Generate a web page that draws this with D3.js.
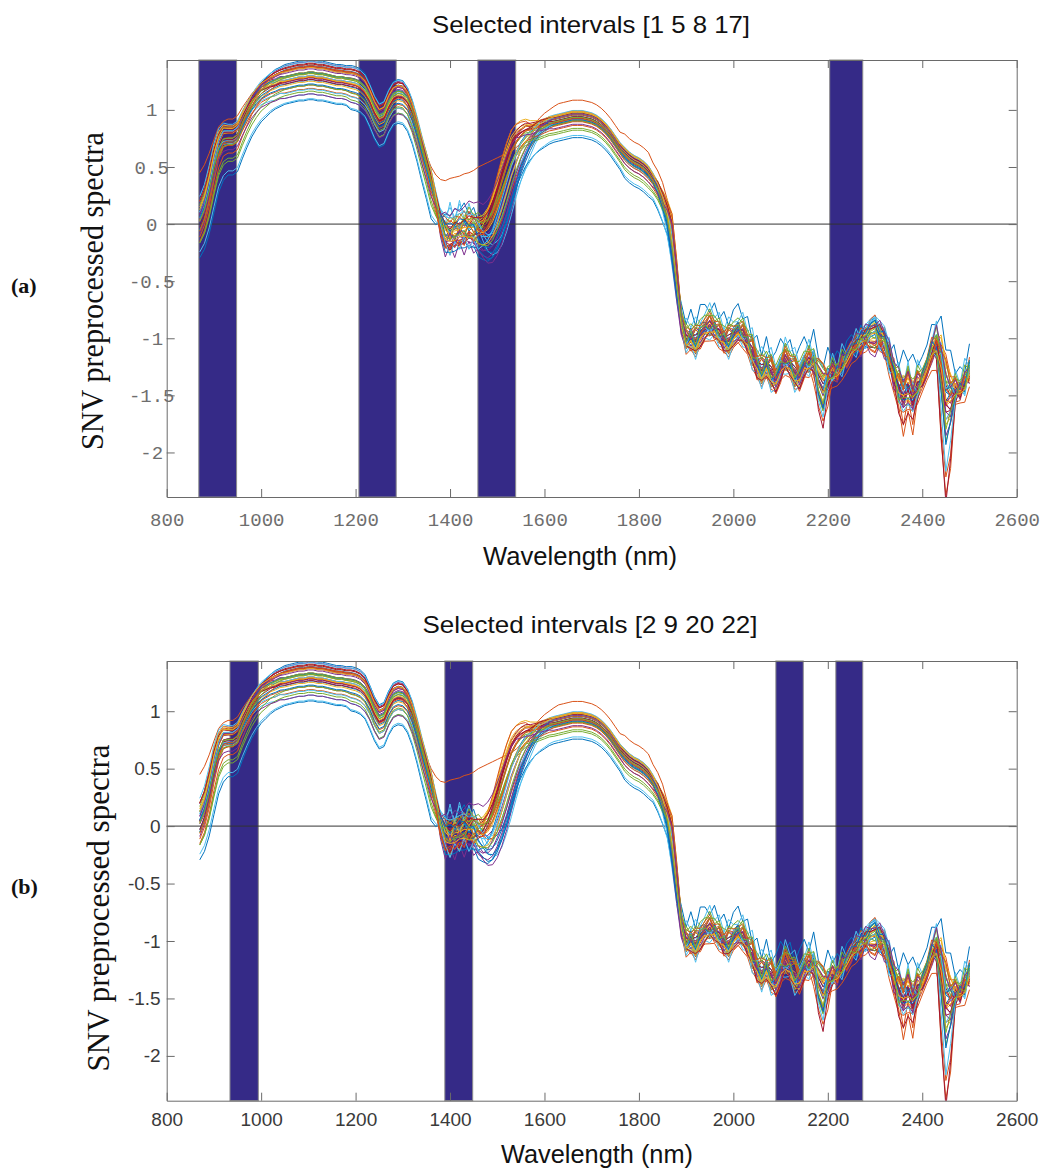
<!DOCTYPE html>
<html>
<head>
<meta charset="utf-8">
<script src="https://cdn.jsdelivr.net/npm/d3@7"></script>
<style>
  body { margin: 0; background: #fff; }
  svg { display: block; }
</style>
</head>
<body>
<svg id="fig" width="1045" height="1174"></svg>
<script>
// ---------------------------------------------------------------
// SNV preprocessed NIR spectra, sampled every 10 nm (870-2500 nm)
// Spectra are stored as a mean curve plus a few component
// profiles and per-sample weights.
// ---------------------------------------------------------------
const wavelengths = d3.range(870, 2501, 10);

const meanSpectrum = [
  0.02, 0.12, 0.28, 0.48, 0.64, 0.72, 0.73, 0.73, 0.76, 0.86,
  0.95, 1.03, 1.09, 1.14, 1.17, 1.20, 1.22, 1.24, 1.25, 1.26,
  1.27, 1.28, 1.28, 1.29, 1.29, 1.28, 1.28, 1.27, 1.26, 1.25,
  1.25, 1.24, 1.23, 1.22, 1.20, 1.16, 1.08, 0.98, 0.91, 0.93,
  1.03, 1.10, 1.12, 1.11, 1.06, 0.96, 0.82, 0.66, 0.51, 0.35,
  0.18, 0.02, -0.07, -0.08, -0.06, -0.04, -0.03, -0.02, -0.03, -0.06,
  -0.08, -0.06, 0.00, 0.10, 0.22, 0.35, 0.48, 0.58, 0.66, 0.72,
  0.76, 0.80, 0.83, 0.85, 0.87, 0.88, 0.89, 0.90, 0.91, 0.92,
  0.92, 0.92, 0.91, 0.90, 0.88, 0.85, 0.81, 0.76, 0.70, 0.64,
  0.59, 0.55, 0.52, 0.50, 0.47, 0.43, 0.37, 0.30, 0.20, 0.08,
  -0.12, -0.48, -0.85, -1.00, -0.98, -1.02, -0.95, -0.90, -0.88, -0.90,
  -0.95, -1.00, -1.02, -0.96, -0.92, -0.95, -1.02, -1.12, -1.22, -1.28,
  -1.22, -1.30, -1.35, -1.25, -1.18, -1.22, -1.30, -1.32, -1.22, -1.20,
  -1.18, -1.30, -1.38, -1.32, -1.28, -1.30, -1.22, -1.18, -1.10, -1.05,
  -1.02, -0.98, -0.96, -0.95, -0.97, -1.02, -1.15, -1.28, -1.38, -1.42,
  -1.38, -1.45, -1.38, -1.35, -1.25, -1.10, -1.02, -1.15, -1.40, -1.45,
  -1.42, -1.45, -1.38, -1.28
];

// overall level of each sample
const levelProfile = [
  0.07, 0.08, 0.09, 0.10, 0.10, 0.10, 0.09, 0.09, 0.09, 0.09,
  0.09, 0.09, 0.09, 0.09, 0.09, 0.09, 0.09, 0.09, 0.09, 0.09,
  0.09, 0.09, 0.09, 0.09, 0.09, 0.09, 0.09, 0.09, 0.09, 0.09,
  0.09, 0.09, 0.10, 0.10, 0.10, 0.10, 0.10, 0.10, 0.10, 0.10,
  0.10, 0.10, 0.10, 0.10, 0.10, 0.10, 0.10, 0.10, 0.10, 0.10,
  0.05, -0.02, -0.08, -0.09, -0.09, -0.09, -0.09, -0.09, -0.09, -0.08,
  -0.06, -0.04, -0.02, 0.00, 0.02, 0.03, 0.04, 0.04, 0.05, 0.05,
  0.05, 0.05, 0.05, 0.05, 0.05, 0.05, 0.05, 0.05, 0.05, 0.05,
  0.05, 0.05, 0.05, 0.05, 0.05, 0.05, 0.05, 0.05, 0.05, 0.05,
  0.06, 0.06, 0.06, 0.06, 0.06, 0.06, 0.05, 0.05, 0.05, 0.04,
  0.03, 0.00, -0.03, -0.04, -0.04, -0.04, -0.04, -0.04, -0.04, -0.04,
  -0.04, -0.04, -0.04, -0.04, -0.04, -0.04, -0.04, -0.04, -0.04, -0.04,
  -0.04, -0.04, -0.04, -0.04, -0.04, -0.04, -0.04, -0.04, -0.04, -0.04,
  -0.04, -0.04, -0.04, -0.04, -0.04, -0.04, -0.04, -0.04, -0.04, -0.04,
  -0.04, -0.04, -0.04, -0.04, -0.04, -0.04, -0.05, -0.06, -0.06, -0.06,
  -0.06, -0.05, -0.05, -0.04, -0.04, -0.06, -0.07, -0.06, -0.05, -0.05,
  -0.04, -0.04, -0.05, -0.05
];

// slope difference between the short and long ends
const tiltProfile = [
  0.12, 0.12, 0.12, 0.11, 0.09, 0.07, 0.06, 0.06, 0.06, 0.05,
  0.04, 0.03, 0.02, 0.01, 0.00, -0.01, -0.02, -0.02, -0.03, -0.03,
  -0.03, -0.03, -0.03, -0.03, -0.03, -0.03, -0.03, -0.03, -0.03, -0.03,
  -0.03, -0.03, -0.03, -0.03, -0.03, -0.03, -0.02, -0.02, -0.02, -0.02,
  -0.02, -0.02, -0.02, -0.02, -0.01, 0.00, 0.01, 0.02, 0.03, 0.04,
  0.05, 0.06, 0.06, 0.05, 0.05, 0.05, 0.05, 0.05, 0.05, 0.04,
  0.03, 0.02, 0.01, 0.00, 0.00, 0.00, 0.00, 0.00, 0.00, 0.00,
  0.01, 0.02, 0.03, 0.03, 0.03, 0.03, 0.03, 0.03, 0.03, 0.03,
  0.03, 0.03, 0.03, 0.03, 0.03, 0.03, 0.03, 0.03, 0.03, 0.03,
  0.03, 0.03, 0.03, 0.03, 0.03, 0.03, 0.03, 0.03, 0.02, 0.01,
  0.00, -0.02, -0.04, -0.05, -0.06, -0.07, -0.07, -0.06, -0.05, -0.05,
  -0.05, -0.06, -0.07, -0.06, -0.05, -0.05, -0.05, -0.06, -0.07, -0.07,
  -0.06, -0.07, -0.07, -0.06, -0.05, -0.06, -0.07, -0.07, -0.06, -0.05,
  -0.04, -0.03, -0.03, -0.03, -0.02, -0.02, -0.01, 0.00, 0.01, 0.02,
  0.03, 0.04, 0.05, 0.06, 0.06, 0.05, 0.04, 0.02, 0.00, -0.02,
  -0.03, -0.04, -0.04, -0.03, -0.02, 0.00, 0.02, 0.00, -0.02, -0.03,
  -0.03, -0.03, -0.02, -0.01
];

// position of the band edges near 1450-1550 nm and 1870 nm
const edgeProfile = [
  0, 0, 0, 0, 0, 0, 0, 0, 0, 0,
  0, 0, 0, 0, 0, 0, 0, 0, 0, 0,
  0, 0, 0, 0, 0, 0, 0, 0, 0, 0,
  0, 0, 0, 0, 0, 0, 0, 0, 0, 0,
  0, 0, 0, 0, 0, 0, 0, 0, 0, 0,
  0, 0, 0.03, -0.04, 0.05, -0.03, 0.04, 0.03, 0.06, 0.09,
  0.13, 0.18, 0.22, 0.25, 0.27, 0.27, 0.25, 0.21, 0.16, 0.12,
  0.08, 0.05, 0.03, 0.02, 0.01, 0, 0, 0, 0, 0,
  0, 0, 0, 0, 0, 0, 0, 0, 0, 0,
  0, 0, 0, 0, 0, 0, 0, 0.02, 0.04, 0.08,
  0.15, 0.12, 0.05, 0, 0, 0, 0, 0, 0, 0,
  0, 0, 0, 0, 0, 0, 0, 0, 0, 0,
  0, 0, 0, 0, 0, 0, 0, 0, 0, 0,
  0, 0, 0, 0, 0, 0, 0, 0, 0, 0,
  0, 0, 0, 0, 0, 0, 0, 0, 0, 0,
  0, 0, 0, 0, 0, 0, 0, 0, 0, 0,
  0, 0, 0, 0
];

// fine structure in the water band and the combination region
const rippleProfile = [
  0, 0, 0, 0, 0, 0, 0, 0, 0, 0,
  0, 0, 0, 0, 0, 0, 0, 0, 0, 0,
  0, 0, 0, 0, 0, 0, 0, 0, 0, 0,
  0, 0, 0, 0, 0, 0, 0, 0, 0, 0,
  0, 0, 0, 0, 0, 0, 0, 0, 0, 0,
  0, 0.02, 0.03, -0.04, 0.04, -0.03, 0.05, -0.04, 0.03, -0.02,
  0, 0, 0, 0, 0, 0, 0, 0, 0, 0,
  0, 0, 0, 0, 0, 0, 0, 0, 0, 0,
  0, 0, 0, 0, 0, 0, 0, 0, 0, 0,
  0, 0, 0, 0, 0, 0, 0, 0, 0, 0,
  0, 0.02, 0.05, -0.03, 0.05, -0.04, 0.05, 0.02, -0.04, 0.04,
  -0.03, 0.05, -0.04, 0.03, 0.05, -0.03, 0.04, -0.05, 0.05, -0.04,
  0.05, -0.05, 0.04, 0.06, -0.04, 0.03, -0.05, 0.05, 0.05, -0.04,
  0.07, -0.05, -0.07, 0.05, -0.04, 0.05, -0.05, 0.04, 0.03, -0.04,
  0.05, -0.03, 0.05, 0.07, -0.04, 0.04, -0.05, 0.05, -0.06, 0.05,
  -0.05, 0.06, -0.05, 0.04, 0.05, 0.05, -0.04, 0.03, -0.05, 0.04,
  -0.04, 0.05, -0.05, 0.07
];

// deep absorption dips near 2190, 2360 and 2450 nm
const dipProfile = [
  0, 0, 0, 0, 0, 0, 0, 0, 0, 0,
  0, 0, 0, 0, 0, 0, 0, 0, 0, 0,
  0, 0, 0, 0, 0, 0, 0, 0, 0, 0,
  0, 0, 0, 0, 0, 0, 0, 0, 0, 0,
  0, 0, 0, 0, 0, 0, 0, 0, 0, 0,
  0, 0, 0, 0, 0, 0, 0, 0, 0, 0,
  0, 0, 0, 0, 0, 0, 0, 0, 0, 0,
  0, 0, 0, 0, 0, 0, 0, 0, 0, 0,
  0, 0, 0, 0, 0, 0, 0, 0, 0, 0,
  0, 0, 0, 0, 0, 0, 0, 0, 0, 0,
  0, 0, 0, 0, 0, 0, 0, 0, 0, 0,
  0, 0, 0, 0, 0, 0, 0, 0, 0, 0,
  0, 0, 0, 0, 0, 0, 0, 0, 0, 0,
  -0.04, -0.12, -0.15, -0.08, -0.03, 0, 0, 0, 0, 0,
  0, 0, 0, 0, 0, 0, 0, -0.05, -0.10, -0.15,
  -0.10, -0.12, -0.05, 0, 0, 0, -0.06, -0.30, -0.42, -0.26,
  -0.05, 0, 0, 0
];

// per-sample weights (40 samples)
const levelWeight = [0.8, 0.5, -0.3, 1.0, 0.2, -1.2, 0.9, -2.6, -0.6, 1.1,
  0.3, 0.6, -2.4, 0.0, 1.2, -0.9, 0.4, 0.8, -1.6, 0.6,
  1.0, -0.2, 0.5, 0.7, 0.9, 0.1, -0.8, 1.1, 0.6, -0.4,
  0.3, 0.8, -1.1, 1.3, 0.2, -0.5, 0.7, 1.0, -1.4, 0.4];
const tiltWeight = [-0.9, 1.2, 0.4, -1.5, 0.8, 1.4, -0.3, -1.1, 0.6, -0.5,
  1.3, 0.9, -0.8, 0.2, -1.3, 0.7, -0.2, 1.0, -0.6, 1.5,
  -1.0, 0.3, -1.4, 1.1, 0.0, -0.7, 1.2, -0.4, 0.5, -1.2,
  0.9, 0.1, -0.9, -0.5, 1.4, 0.6, -1.1, 0.3, 0.8, -0.2];
const edgeWeight = [-1.2, 0.6, 1.0, -0.4, 0.2, -1.4, 0.8, -0.7, 0.3, 1.2,
  -0.2, 0.5, -1.0, 0.9, 0.0, -0.6, 1.1, -1.5, 0.4, -0.3,
  0.7, -0.9, 1.3, 0.1, -1.1, 0.6, -0.5, 0.9, -1.3, 0.2,
  1.0, -0.8, 0.4, -0.1, 0.8, -1.2, 0.5, -0.4, 1.1, -0.6];
const rippleWeight = [1.0, -0.8, 0.5, -1.2, 0.9, 0.2, -0.6, 1.3, -1.0, 0.4,
  -0.3, 0.8, -1.4, 0.6, -0.1, 1.1, -0.7, 0.3, -1.1, 0.9,
  -0.5, 1.2, -0.9, 0.1, 0.7, -1.3, 0.5, -0.2, 1.0, -0.8,
  0.6, -1.0, 0.2, 1.4, -0.4, 0.8, -1.2, 0.3, -0.6, 0.9];
const dipWeight = [0.2, 2.3, -0.4, 0.5, -0.2, 0.8, 0.0, -0.5, 2.1, 0.3,
  -0.3, 1.0, 0.6, 2.4, 0.1, 0.4, -0.2, 0.9, 0.3, -0.4,
  0.3, 0.0, -0.5, 0.7, 0.2, -0.3, 1.8, 0.5, -0.1, 0.3,
  -0.6, 0.6, 0.1, -0.2, 0.4, 1.2, -0.4, 0.2, 0.0, 0.8];

// one atypical sample: its 870-1620 nm part is listed directly
const atypicalHead = [
  0.45, 0.52, 0.62, 0.74, 0.85, 0.90, 0.92, 0.92, 0.95, 1.02,
  1.08, 1.14, 1.19, 1.23, 1.26, 1.29, 1.31, 1.33, 1.34, 1.35,
  1.36, 1.37, 1.37, 1.38, 1.38, 1.37, 1.37, 1.36, 1.35, 1.35,
  1.34, 1.33, 1.32, 1.31, 1.29, 1.25, 1.17, 1.07, 1.00, 1.02,
  1.12, 1.19, 1.21, 1.20, 1.15, 1.05, 0.90, 0.74, 0.60, 0.50,
  0.43, 0.39, 0.38, 0.40, 0.41, 0.42, 0.44, 0.45, 0.47, 0.50,
  0.52, 0.54, 0.56, 0.58, 0.60, 0.62, 0.64, 0.67, 0.71, 0.76,
  0.82, 0.88, 0.93, 0.97, 1.00, 1.03
];
const atypicalWeights = [3.3, 0.0, 0.0, 0.3, 0.3];

const lineColors = ["#0072BD", "#D95319", "#EDB120", "#7E2F8E", "#77AC30", "#4DBEEE", "#A2142F"];

// selected wavelength intervals (nm)
const intervalsA = [[868, 948], [1207, 1286], [1459, 1539], [2204, 2274]];
const intervalsB = [[934, 994], [1389, 1448], [2090, 2148], [2217, 2274]];
const titleA = "Selected intervals [1 5 8 17]";
const titleB = "Selected intervals [2 9 20 22]";

const xTicks = [800, 1000, 1200, 1400, 1600, 1800, 2000, 2200, 2400, 2600];
const yTicks = [-2, -1.5, -1, -0.5, 0, 0.5, 1];
const xDomain = [800, 2600];
const yDomain = [-2.39, 1.437];

// ---------------------------------------------------------------
const profiles = [levelProfile, tiltProfile, edgeProfile, rippleProfile, dipProfile];

function buildSpectrum(w) {
  return meanSpectrum.map((m, j) =>
    profiles.reduce((acc, prof, k) => acc + w[k] * prof[j], m));
}

const spectra = levelWeight.map((_, i) => ({
  color: lineColors[i % lineColors.length],
  values: buildSpectrum([levelWeight[i], tiltWeight[i], edgeWeight[i], rippleWeight[i], dipWeight[i]])
}));
// atypical sample drawn with the second palette colour
(function () {
  const v = buildSpectrum(atypicalWeights);
  atypicalHead.forEach((a, j) => { v[j] = a; });
  spectra.splice(1, 0, { color: lineColors[1], values: v });
})();

const svg = d3.select("#fig");
const x = d3.scaleLinear().domain(xDomain).range([166.7, 1016.7]);

function drawPanel(p) {
  const y = d3.scaleLinear().domain(yDomain).range([p.bottom, p.top]);
  const left = x.range()[0], right = x.range()[1];
  const g = svg.append("g");

  svg.append("clipPath").attr("id", "clip-" + p.key)
    .append("rect").attr("x", left).attr("y", p.top)
    .attr("width", right - left).attr("height", p.bottom - p.top);

  // selected intervals
  g.append("g").selectAll("rect").data(p.intervals).join("rect")
    .attr("x", d => x(d[0])).attr("width", d => x(d[1]) - x(d[0]))
    .attr("y", p.top).attr("height", p.bottom - p.top)
    .attr("fill", "#352a87").attr("stroke", "#8c8c8c").attr("stroke-width", 1);

  // zero line
  g.append("line").attr("x1", left).attr("x2", right)
    .attr("y1", y(0)).attr("y2", y(0))
    .attr("stroke", "#333").attr("stroke-width", 1);

  // spectra
  const line = d3.line().x((d, i) => x(wavelengths[i])).y(d => y(d));
  g.append("g").attr("clip-path", "url(#clip-" + p.key + ")")
    .selectAll("path").data(spectra).join("path")
    .attr("d", d => line(d.values))
    .attr("fill", "none").attr("stroke", d => d.color)
    .attr("stroke-width", 1).attr("stroke-linejoin", "round");

  const tickFont = p.mono ? "'Liberation Mono', 'DejaVu Sans Mono', monospace"
                          : "'Liberation Sans', Arial, sans-serif";
  const tickColor = p.mono ? "#6e6e6e" : "#3a3a3a";
  const axisColor = "#6a6a6a";

  function style(sel) {
    sel.select(".domain").attr("stroke", axisColor);
    sel.selectAll(".tick line").attr("stroke", axisColor);
    sel.selectAll("text").attr("font-family", tickFont).attr("font-size", 19)
      .attr("fill", tickColor);
  }

  const gx = g.append("g").attr("transform", `translate(0,${p.bottom})`)
    .call(d3.axisBottom(x).tickValues(xTicks).tickSizeInner(-8).tickSizeOuter(0)
      .tickPadding(p.mono ? 15.5 : 12).tickFormat(d => String(d)));
  style(gx);

  const gy = g.append("g").attr("transform", `translate(${left},0)`)
    .call(d3.axisLeft(y).tickValues(yTicks).tickSizeInner(-8).tickSizeOuter(0)
      .tickFormat(d => String(d)));
  style(gy);
  if (p.mono) {
    gy.selectAll("text").attr("text-anchor", "middle").attr("x", -15);
  } else {
    gy.selectAll("text").attr("x", -6);
  }

  const gt = g.append("g").attr("transform", `translate(0,${p.top})`)
    .call(d3.axisTop(x).tickValues(xTicks).tickSizeInner(-8).tickSizeOuter(0).tickFormat(""));
  style(gt);
  const gr = g.append("g").attr("transform", `translate(${right},0)`)
    .call(d3.axisRight(y).tickValues(yTicks).tickSizeInner(-8).tickSizeOuter(0).tickFormat(""));
  style(gr);

  // title
  g.append("text").attr("x", p.titleX).attr("y", p.titleY)
    .attr("text-anchor", "middle")
    .attr("font-family", "'Liberation Sans', Arial, sans-serif")
    .attr("font-size", 24).attr("fill", "#111")
    .attr("textLength", p.titleLen).attr("lengthAdjust", "spacingAndGlyphs")
    .text(p.title);

  // x label
  g.append("text").attr("x", p.xLabelX).attr("y", p.xLabelY)
    .attr("text-anchor", "middle")
    .attr("font-family", "'Liberation Sans', Arial, sans-serif")
    .attr("font-size", 25).attr("fill", "#111")
    .attr("textLength", p.xLabelLen).attr("lengthAdjust", "spacingAndGlyphs")
    .text("Wavelength (nm)");

  // y label
  g.append("text")
    .attr("transform", `translate(${p.yLabelX},${p.yLabelY}) rotate(-90)`)
    .attr("text-anchor", "middle")
    .attr("font-family", "'Liberation Serif', 'Times New Roman', serif")
    .attr("font-size", 32).attr("fill", "#111")
    .attr("textLength", p.yLabelLen).attr("lengthAdjust", "spacingAndGlyphs")
    .text("SNV preprocessed spectra");

  // panel tag
  g.append("text").attr("x", 11).attr("y", p.tagY)
    .attr("font-family", "'Liberation Serif', 'Times New Roman', serif")
    .attr("font-size", 22).attr("font-weight", "bold").attr("fill", "#111")
    .text(p.tag);
}

drawPanel({
  key: "a", title: titleA, intervals: intervalsA, top: 60, bottom: 497,
  mono: true, titleX: 591, titleY: 33, titleLen: 318,
  xLabelX: 580, xLabelY: 565, xLabelLen: 194,
  yLabelX: 103, yLabelY: 291, yLabelLen: 318, tag: "(a)", tagY: 293
});
drawPanel({
  key: "b", title: titleB, intervals: intervalsB, top: 661, bottom: 1100.7,
  mono: false, titleX: 590, titleY: 633, titleLen: 335,
  xLabelX: 597, xLabelY: 1163, xLabelLen: 192,
  yLabelX: 109, yLabelY: 908, yLabelLen: 327, tag: "(b)", tagY: 894
});
</script>
</body>
</html>
